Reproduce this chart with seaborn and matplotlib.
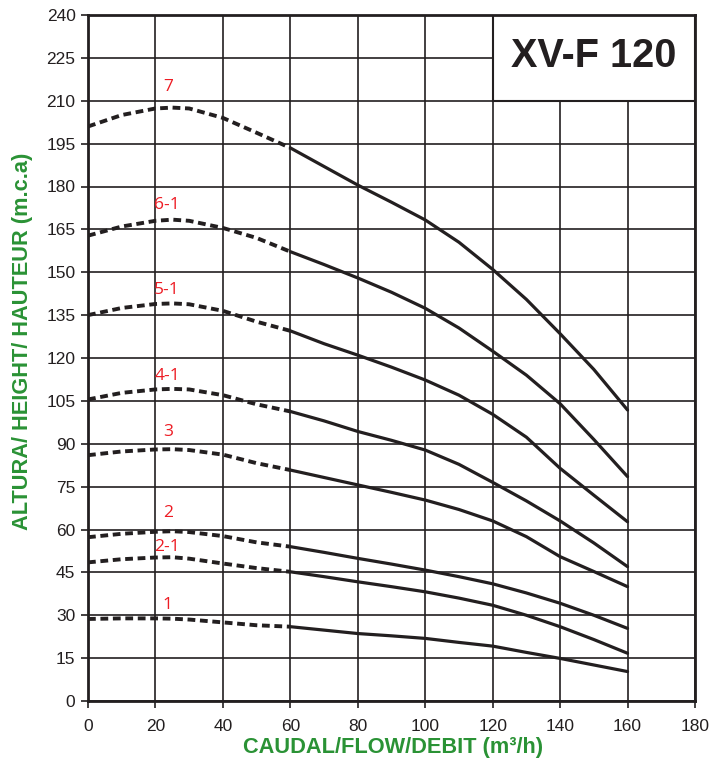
import numpy as np
import pandas as pd
import matplotlib
matplotlib.use("Agg")
import matplotlib.pyplot as plt
from matplotlib.patches import Rectangle
import seaborn as sns

# flow (m3/h) and head (m.c.a)
x_flow = [0, 10, 20, 25, 30, 40, 50, 60, 70, 80, 90, 100, 110, 120, 130, 140, 150, 160]

head_7 = [201, 205, 207.3, 207.6, 207.3, 204, 198.8, 193.5, 187, 180.5, 174.5, 168.3, 160.5, 151, 140.5, 128.5, 116, 101.8]
head_6_1 = [162.8, 166, 168, 168.4, 168, 165.5, 162, 157.2, 152.7, 148, 143, 137.4, 130.5, 122.4, 114, 104, 91.5, 78.5]
head_5_1 = [135, 137.5, 138.9, 139.1, 138.8, 136.5, 132.7, 129.5, 125, 121, 116.8, 112.3, 107, 100.3, 92.3, 81.4, 72, 62.7]
head_4_1 = [105.5, 107.8, 109, 109.2, 109, 107, 103.8, 101.3, 98, 94.3, 91.2, 87.8, 82.8, 76.5, 70, 63, 55.3, 47]
head_3 = [86, 87.3, 88, 88.1, 87.8, 86.2, 83.2, 80.8, 78.2, 75.6, 73, 70.3, 67, 63, 57.5, 50.5, 45.3, 40]
head_2 = [57.3, 58.5, 59.2, 59.4, 59.1, 57.7, 55.5, 54, 52, 49.9, 47.9, 45.8, 43.5, 41, 37.8, 34.2, 30, 25.4]
head_2_1 = [48.5, 49.6, 50.2, 50.3, 49.8, 48.1, 46.5, 45.2, 43.5, 41.7, 40, 38.2, 36, 33.5, 30, 26, 21.5, 16.7]
head_1 = [28.7, 28.9, 28.9, 28.8, 28.5, 27.5, 26.5, 26, 24.8, 23.6, 22.8, 21.9, 20.5, 19.2, 17, 14.9, 12.6, 10.3]

curve_heads = [head_7, head_6_1, head_5_1, head_4_1, head_3, head_2, head_2_1, head_1]

# curve name labels (red)
label_text = ["7", "6-1", "5-1", "4-1", "3", "2", "2-1", "1"]
label_x = [23.8, 23.5, 23.5, 23.5, 23.8, 23.8, 23.5, 23.6]
label_y = [214.9, 173.5, 143.8, 113.7, 94.2, 65.7, 53.8, 33.6]

x_ticks = list(range(0, 181, 20))
y_ticks = list(range(0, 241, 15))
dash_limit = 60

ink = '#231f20'
green = '#2a9235'
red = '#ed1c24'

sns.set_style("white")
plt.rcParams['font.family'] = ['Liberation Sans', 'DejaVu Sans']

fig = plt.figure(figsize=(7.28, 7.64), dpi=100)
ax = fig.add_axes([88/728, 63/764, 607/728, 686/764])

for heads in curve_heads:
    df = pd.DataFrame({'flow': x_flow, 'head': heads})
    dashed = df[df['flow'] <= dash_limit]
    solid = df[df['flow'] >= dash_limit]
    sns.lineplot(data=dashed, x='flow', y='head', ax=ax, color=ink, lw=2.8,
                 linestyle=(0, (2, 1.2)), zorder=3)
    sns.lineplot(data=solid, x='flow', y='head', ax=ax, color=ink, lw=2.3, zorder=3)

for t, lx, ly in zip(label_text, label_x, label_y):
    ax.text(lx, ly, t, color=red, fontsize=12.5, ha='center', va='center',
            family=['Open Sans', 'DejaVu Sans'], zorder=4)

ax.set_xlim(0, 180)
ax.set_ylim(0, 240)
ax.set_xticks(x_ticks)
ax.set_yticks(y_ticks)
ax.set_axisbelow(True)
ax.grid(True, color=ink, lw=1.2)

# model box in the top-right corner
ax.add_patch(Rectangle((120, 210), 60, 30, facecolor='white', edgecolor=ink, lw=1.5, zorder=1.5))
ax.text(150, 225.5, "XV-F 120", fontsize=28.5, fontweight='bold', color=ink,
        ha='center', va='center', zorder=4)

for s in ax.spines.values():
    s.set_color(ink)
    s.set_linewidth(2)

ax.tick_params(bottom=True, left=True, direction='out', length=5, width=1.2,
               color=ink, labelcolor=ink, labelsize=12.5)
ax.tick_params(axis='x', pad=8)
ax.tick_params(axis='y', pad=4)

ax.set_xlabel("CAUDAL/FLOW/DEBIT (m³/h)", fontsize=15.7, fontweight='bold', color=green)
ax.set_ylabel("ALTURA/ HEIGHT/ HAUTEUR (m.c.a)", fontsize=15.7, fontweight='bold', color=green)
ax.xaxis.set_label_coords(0.502, -0.053)
ax.yaxis.set_label_coords(-0.09, 0.525)

fig.savefig("out.png", dpi=100)
